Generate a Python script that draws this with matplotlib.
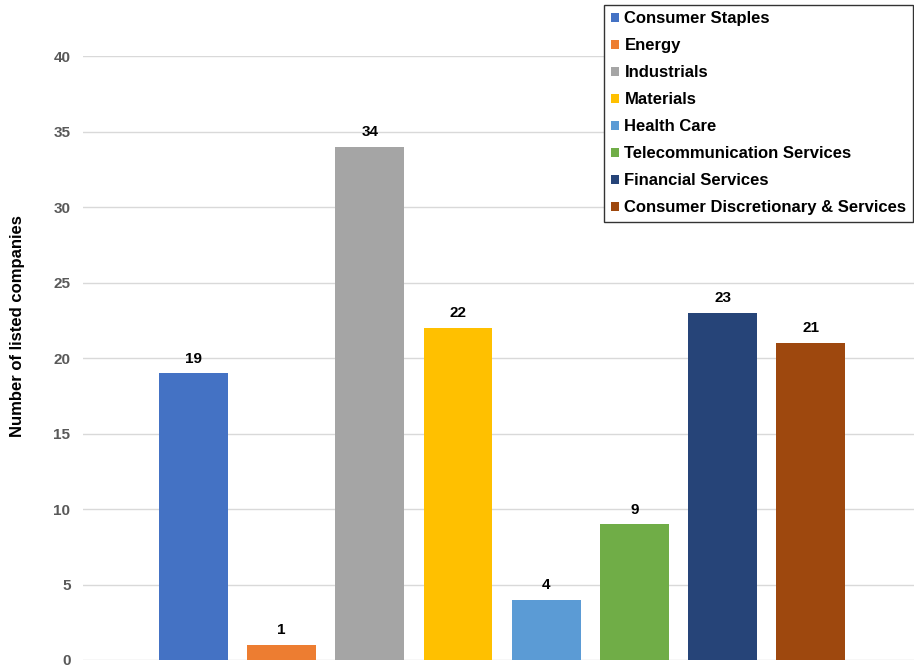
import matplotlib
matplotlib.use("Agg")
import matplotlib.pyplot as plt
from matplotlib.patches import Patch

categories = ["Consumer Staples", "Energy", "Industrials", "Materials", "Health Care",
              "Telecommunication Services", "Financial Services",
              "Consumer Discretionary & Services"]
values = [19, 1, 34, 22, 4, 9, 23, 21]
colors = ["#4472C4", "#ED7D31", "#A5A5A5", "#FFC000", "#5B9BD5", "#70AD47", "#264478", "#9E480E"]
yticks = [0, 5, 10, 15, 20, 25, 30, 35, 40]

plt.rcParams['font.family'] = ['Liberation Sans', 'DejaVu Sans']

fig = plt.figure(figsize=(9.14, 6.67), dpi=100)
ax = fig.add_axes([0.0908, 0.0105, 0.9092, 0.9055])

x = list(range(len(categories)))
bars = ax.bar(x, values, width=0.78, color=colors, zorder=3)
for xi, v in zip(x, values):
    ax.text(xi, v + 0.5, str(v), ha='center', va='bottom', fontsize=11,
            fontweight='bold', color='black')

ax.set_xlim(-1.25, 8.17)
ax.set_ylim(0, 40)
ax.set_yticks(yticks)
ax.set_yticklabels([str(t) for t in yticks], fontsize=11, fontweight='bold', color='#595959')
ax.set_xticks([])
ax.tick_params(axis='y', length=0, pad=9)
ax.grid(axis='y', color='#D9D9D9', linewidth=1, zorder=0)
for s in ax.spines.values():
    s.set_visible(False)
fig.text(18 / 914, 1 - 326 / 667, "Number of listed companies", rotation=90,
         ha='center', va='center', fontsize=12, fontweight='bold', color='black')

handles = [Patch(facecolor=c, edgecolor='none') for c in colors]
leg = fig.legend(handles, categories, loc='upper right', bbox_to_anchor=(0.999, 0.993),
                 fancybox=False, edgecolor='#333333', framealpha=1,
                 prop={'weight': 'bold', 'size': 12},
                 handlelength=0.5, handleheight=0.5, handletextpad=0.3,
                 labelspacing=0.72, borderpad=0.4, borderaxespad=0)
leg.get_frame().set_linewidth(1.0)

fig.savefig("out.png", dpi=100)
